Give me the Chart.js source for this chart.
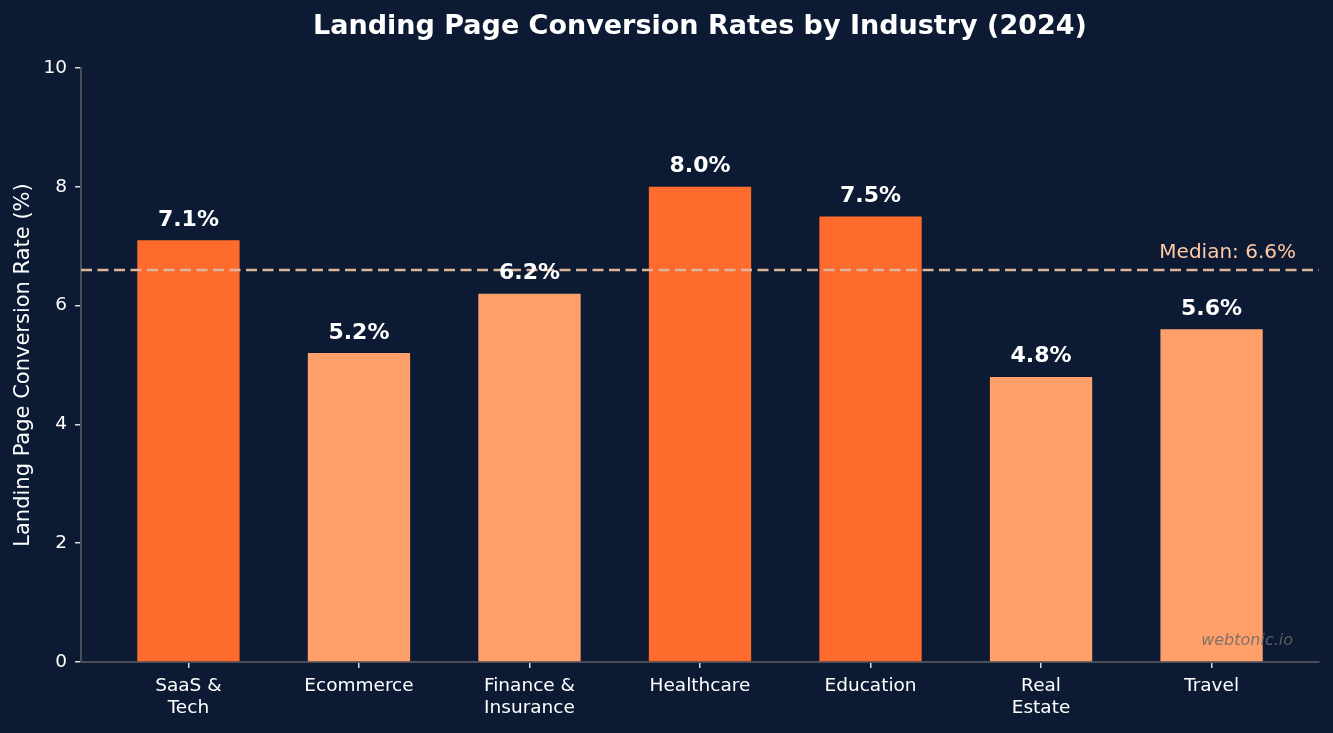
<!DOCTYPE html>
<html>
<head>
<meta charset="utf-8">
<script src="https://cdn.jsdelivr.net/npm/chart.js@4.4.1/dist/chart.umd.min.js"></script>
<style>
  html, body { margin: 0; padding: 0; background: #0c1b33; }
  #wrap { width: 1333px; height: 733px; }
</style>
</head>
<body>
<div id="wrap"><canvas id="c" width="1333" height="733"></canvas></div>
<script>
const categories = [["SaaS &", "Tech"], ["Ecommerce"], ["Finance &", "Insurance"], ["Healthcare"], ["Education"], ["Real", "Estate"], ["Travel"]];
const rates = [7.1, 5.2, 6.2, 8.0, 7.5, 4.8, 5.6];
const medianRate = 6.6;
const yTicks = [0, 2, 4, 6, 8, 10];
const chartTitle = 'Landing Page Conversion Rates by Industry (2024)';

const BG = '#0c1b33';
const HIGH = '#ff6b2c';
const LOW = '#ffa06b';
const FONT = "'DejaVu Sans', sans-serif";

const barColors = rates.map(v => v > medianRate ? HIGH : LOW);
const points = rates.map((v, i) => ({ x: i, y: v }));

const overlay = {
  id: 'overlay',
  beforeDraw(chart) {
    const ctx = chart.ctx;
    ctx.save();
    ctx.fillStyle = BG;
    ctx.fillRect(0, 0, chart.width, chart.height);
    ctx.restore();
  },
  afterDatasetsDraw(chart) {
    const ctx = chart.ctx;
    const xs = chart.scales.x, ys = chart.scales.y;
    const area = chart.chartArea;
    ctx.save();
    // title centred over the plot area
    ctx.font = "bold 27px " + FONT;
    ctx.fillStyle = '#ffffff';
    ctx.textAlign = 'center';
    ctx.textBaseline = 'middle';
    ctx.fillText(chartTitle, (area.left + area.right) / 2, 27);
    // median line
    const my = ys.getPixelForValue(medianRate);
    ctx.strokeStyle = '#ddb59d';
    ctx.lineWidth = 2.6;
    ctx.setLineDash([11, 5.5]);
    ctx.beginPath();
    ctx.moveTo(area.left, my);
    ctx.lineTo(area.right, my);
    ctx.stroke();
    ctx.setLineDash([]);
    ctx.font = "20px " + FONT;
    ctx.fillStyle = '#ffc9a6';
    ctx.textAlign = 'right';
    ctx.textBaseline = 'alphabetic';
    ctx.fillText('Median: ' + medianRate.toFixed(1) + '%', area.right - 23, my - 12);
    // value labels
    ctx.font = "bold 22px " + FONT;
    ctx.fillStyle = '#ffffff';
    ctx.textAlign = 'center';
    ctx.textBaseline = 'alphabetic';
    rates.forEach((v, i) => {
      ctx.fillText(v.toFixed(1) + '%', xs.getPixelForValue(i), ys.getPixelForValue(v) - 14.5);
    });
    // watermark
    ctx.font = "italic 16px " + FONT;
    ctx.fillStyle = 'rgba(105,105,105,0.85)';
    ctx.textAlign = 'right';
    ctx.textBaseline = 'middle';
    ctx.fillText('webtonic.io', area.right - 26, area.bottom - 21);
    ctx.restore();
  }
};

new Chart(document.getElementById('c'), {
  type: 'bar',
  data: {
    datasets: [{
      data: points,
      backgroundColor: barColors,
      borderWidth: 0,
      barPercentage: 0.6,
      categoryPercentage: 1.0
    }]
  },
  options: {
    responsive: false,
    animation: false,
    devicePixelRatio: 1,
    layout: { padding: { left: 0, right: 14, top: 68, bottom: 0 } },
    plugins: {
      legend: { display: false },
      tooltip: { enabled: false },
      title: { display: false }
    },
    scales: {
      x: {
        type: 'linear',
        min: -0.63,
        max: 6.63,
        offset: false,
        afterBuildTicks(scale) { scale.ticks = categories.map((c, i) => ({ value: i })); },
        afterFit(scale) { scale.height = 71; },
        ticks: {
          color: '#ffffff',
          font: { family: FONT, size: 18.5, lineHeight: 1.2 },
          padding: 7,
          maxRotation: 0,
          autoSkip: false,
          callback: (v) => categories[v]
        },
        grid: { display: true, offset: false, drawOnChartArea: false, drawTicks: true, tickLength: 6, color: '#dddddd', lineWidth: 1.5 },
        border: { display: true, color: '#4a4d55', width: 2 }
      },
      y: {
        min: 0,
        max: 10,
        afterBuildTicks(scale) { scale.ticks = yTicks.map(v => ({ value: v })); },
        afterFit(scale) { scale.width = 81; },
        ticks: {
          color: '#ffffff',
          font: { family: FONT, size: 18.5 },
          padding: 8
        },
        title: {
          display: true,
          text: 'Landing Page Conversion Rate (%)',
          color: '#ffffff',
          font: { family: FONT, size: 21 },
          padding: { top: 11, bottom: 4 }
        },
        grid: { display: true, drawOnChartArea: false, drawTicks: true, tickLength: 6, color: '#dddddd', lineWidth: 1.5 },
        border: { display: true, color: '#4a4d55', width: 2 }
      }
    }
  },
  plugins: [overlay]
});
</script>
</body>
</html>
